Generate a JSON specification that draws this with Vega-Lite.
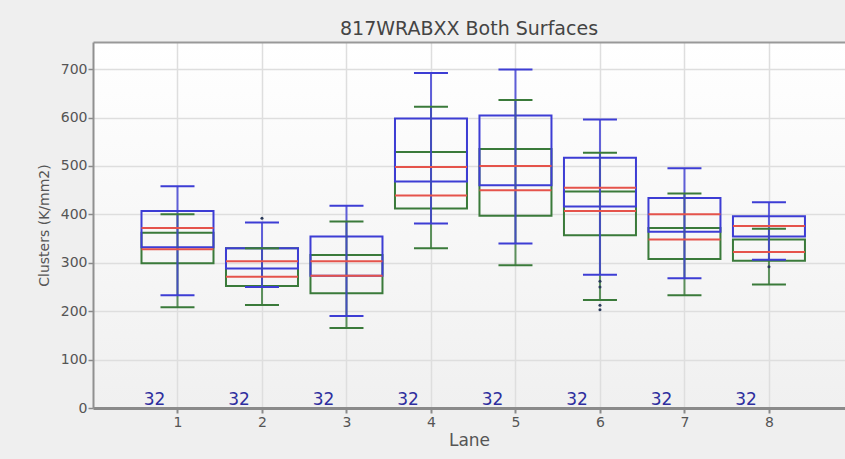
{
  "$schema": "https://vega.github.io/schema/vega-lite/v6.json",
  "width": 752,
  "height": 366,
  "autosize": {"type": "none"},
  "padding": {"left": 93, "top": 42, "right": 0, "bottom": 51},
  "background": "#efefef",
  "title": {
    "text": "817WRABXX Both Surfaces",
    "font": "DejaVu Sans",
    "fontSize": 19,
    "fontWeight": "normal",
    "color": "#444444",
    "anchor": "middle",
    "offset": 3
  },
  "config": {
    "view": {
      "stroke": null,
      "fill": {
        "gradient": "linear",
        "x1": 0, "y1": 0, "x2": 0, "y2": 1,
        "stops": [
          {"offset": 0, "color": "#ffffff"},
          {"offset": 1, "color": "#f0f0f0"}
        ]
      }
    },
    "axis": {
      "labelFont": "DejaVu Sans",
      "titleFont": "DejaVu Sans",
      "labelColor": "#555555",
      "titleColor": "#555555",
      "titleFontWeight": "normal",
      "gridColor": "#dedede",
      "gridWidth": 1.5
    }
  },
  "datasets": {
    "boxes": [
      {"lane": 1, "series": "PF", "min": 208, "q1": 299, "median": 328, "q3": 362, "max": 400},
      {"lane": 2, "series": "PF", "min": 213, "q1": 252, "median": 271, "q3": 330, "max": 330},
      {"lane": 3, "series": "PF", "min": 165, "q1": 237, "median": 273, "q3": 316, "max": 385},
      {"lane": 4, "series": "PF", "min": 330, "q1": 412, "median": 439, "q3": 529, "max": 622},
      {"lane": 5, "series": "PF", "min": 295, "q1": 397, "median": 450, "q3": 535, "max": 636},
      {"lane": 6, "series": "PF", "min": 223, "q1": 357, "median": 407, "q3": 447, "max": 527},
      {"lane": 7, "series": "PF", "min": 233, "q1": 308, "median": 348, "q3": 372, "max": 443},
      {"lane": 8, "series": "PF", "min": 255, "q1": 304, "median": 322, "q3": 348, "max": 370},
      {"lane": 1, "series": "Raw", "min": 233, "q1": 332, "median": 372, "q3": 407, "max": 458},
      {"lane": 2, "series": "Raw", "min": 250, "q1": 288, "median": 303, "q3": 330, "max": 383},
      {"lane": 3, "series": "Raw", "min": 190, "q1": 273, "median": 303, "q3": 354, "max": 418},
      {"lane": 4, "series": "Raw", "min": 381, "q1": 468, "median": 498, "q3": 598, "max": 692},
      {"lane": 5, "series": "Raw", "min": 340, "q1": 460, "median": 500, "q3": 604, "max": 699},
      {"lane": 6, "series": "Raw", "min": 275, "q1": 416, "median": 455, "q3": 517, "max": 596},
      {"lane": 7, "series": "Raw", "min": 268, "q1": 364, "median": 400, "q3": 434, "max": 495},
      {"lane": 8, "series": "Raw", "min": 306, "q1": 354, "median": 376, "q3": 396, "max": 425}
    ],
    "outliers": [
      {"lane": 2, "series": "Raw", "value": 392},
      {"lane": 6, "series": "Raw", "value": 262},
      {"lane": 6, "series": "Raw", "value": 250},
      {"lane": 6, "series": "PF", "value": 212},
      {"lane": 6, "series": "PF", "value": 203},
      {"lane": 8, "series": "Raw", "value": 292}
    ],
    "counts": [
      {"lane": 1, "n": 32}, {"lane": 2, "n": 32}, {"lane": 3, "n": 32}, {"lane": 4, "n": 32},
      {"lane": 5, "n": 32}, {"lane": 6, "n": 32}, {"lane": 7, "n": 32}, {"lane": 8, "n": 32}
    ]
  },
  "resolve": {"axis": {"x": "independent", "y": "independent"}},
  "layer": [
    {
      "data": {"name": "boxes"},
      "mark": {"type": "bar", "size": 72, "fill": null, "filled": false, "strokeWidth": 2},
      "encoding": {
        "x": {
          "field": "lane", "type": "quantitative",
          "scale": {"domain": [0, 8.9], "nice": false, "zero": false, "padding": 0},
          "axis": {
            "orient": "bottom",
            "values": [1, 2, 3, 4, 5, 6, 7, 8],
            "format": "d",
            "title": "Lane",
            "titleFontSize": 17,
            "titlePadding": 3,
            "labelFontSize": 14,
            "labelPadding": 2,
            "tickSize": 5,
            "tickWidth": 2,
            "tickColor": "#8a8a8a",
            "domainColor": "#8a8a8a",
            "domainWidth": 3,
            "grid": true
          }
        },
        "y": {
          "field": "q1", "type": "quantitative",
          "scale": {"domain": [0, 756], "nice": false, "padding": 0},
          "axis": {
            "values": [0, 100, 200, 300, 400, 500, 600, 700],
            "title": "Clusters (K/mm2)",
            "titleFontSize": 14,
            "titlePadding": 9,
            "labelFontSize": 14,
            "labelPadding": 1,
            "tickSize": 5,
            "tickWidth": 1.5,
            "tickColor": "#8a8a8a",
            "domainColor": "#909090",
            "domainWidth": 2,
            "grid": true
          }
        },
        "y2": {"field": "q3"},
        "stroke": {
          "field": "series", "type": "nominal",
          "scale": {"domain": ["Raw", "PF"], "range": ["#3d3dd4", "#3a7a3a"]},
          "legend": null
        }
      }
    },
    {
      "data": {"name": "boxes"},
      "mark": {"type": "rule", "strokeWidth": 2, "opacity": 0.8},
      "encoding": {
        "x": {"field": "lane", "type": "quantitative", "axis": {"orient": "top", "labels": false, "ticks": false, "grid": false, "title": null, "domainColor": "#999999", "domainWidth": 2}},
        "y": {"field": "min", "type": "quantitative", "axis": null},
        "y2": {"field": "max"},
        "color": {"field": "series", "type": "nominal", "scale": {"domain": ["Raw", "PF"], "range": ["#3d3dd4", "#3a7a3a"]}, "legend": null}
      }
    },
    {
      "data": {"name": "boxes"},
      "mark": {"type": "tick", "orient": "horizontal", "size": 34, "thickness": 2, "opacity": 1},
      "encoding": {
        "x": {"field": "lane", "type": "quantitative", "axis": null},
        "y": {"field": "min", "type": "quantitative", "axis": null},
        "color": {"field": "series", "type": "nominal", "scale": {"domain": ["Raw", "PF"], "range": ["#3d3dd4", "#3a7a3a"]}, "legend": null}
      }
    },
    {
      "data": {"name": "boxes"},
      "mark": {"type": "tick", "orient": "horizontal", "size": 34, "thickness": 2, "opacity": 1},
      "encoding": {
        "x": {"field": "lane", "type": "quantitative", "axis": null},
        "y": {"field": "max", "type": "quantitative", "axis": null},
        "color": {"field": "series", "type": "nominal", "scale": {"domain": ["Raw", "PF"], "range": ["#3d3dd4", "#3a7a3a"]}, "legend": null}
      }
    },
    {
      "data": {"name": "boxes"},
      "mark": {"type": "tick", "orient": "horizontal", "size": 72, "thickness": 2, "color": "#e5534b", "opacity": 1},
      "encoding": {
        "x": {"field": "lane", "type": "quantitative", "axis": null},
        "y": {"field": "median", "type": "quantitative", "axis": null}
      }
    },
    {
      "data": {"name": "outliers"},
      "mark": {"type": "circle", "size": 9, "color": "#2a3a5a", "opacity": 1},
      "encoding": {
        "x": {"field": "lane", "type": "quantitative", "axis": null},
        "y": {"field": "value", "type": "quantitative", "axis": null}
      }
    },
    {
      "data": {"name": "counts"},
      "mark": {"type": "text", "font": "DejaVu Sans", "fontSize": 17, "color": "#2e2e9e", "dx": -23, "dy": 1, "baseline": "bottom", "align": "center"},
      "encoding": {
        "x": {"field": "lane", "type": "quantitative", "axis": null},
        "y": {"datum": 0, "type": "quantitative", "axis": null},
        "text": {"field": "n", "type": "quantitative"}
      }
    }
  ]
}
